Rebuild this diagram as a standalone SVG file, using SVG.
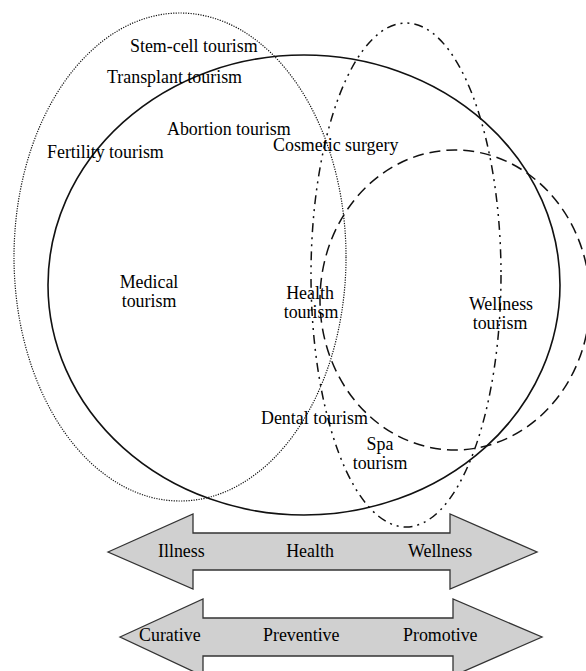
<svg xmlns="http://www.w3.org/2000/svg" width="586" height="671" viewBox="0 0 586 671">
<style>
text{font-family:"Liberation Serif","Times New Roman",serif;font-size:17.9px;fill:#000}
.c{text-anchor:middle}
.e{fill:none;stroke:#111}
.arr{fill:#d0d0d0;stroke:#333;stroke-width:1.3}
</style>
<rect width="586" height="671" fill="#fff"/>
<g id="connectors">
<ellipse id="medical-boundary" class="e" cx="180" cy="257" rx="166" ry="244" stroke-width="1.2" stroke-dasharray="1.2 1.3"/>
<ellipse id="health-boundary" class="e" cx="304" cy="285" rx="256" ry="230" stroke-width="1.6"/>
<ellipse id="spa-boundary" class="e" cx="406" cy="275" rx="95" ry="252" stroke-width="1.5" stroke-dasharray="9 5 2 5 2 5"/>
<ellipse id="wellness-boundary" class="e" cx="455" cy="300" rx="135" ry="150" stroke-width="1.5" stroke-dasharray="11 6"/>
</g>
<g id="labels">
<text x="130" y="52">Stem-cell tourism</text>
<text x="107" y="83">Transplant tourism</text>
<text x="167" y="135">Abortion tourism</text>
<text x="47" y="158">Fertility tourism</text>
<text x="273" y="151">Cosmetic surgery</text>
<g id="medical"><text class="c" x="149" y="288">Medical</text><text class="c" x="149" y="307">tourism</text></g>
<g id="health"><text class="c" x="310" y="299">Health</text><text class="c" x="311" y="318">tourism</text></g>
<g id="wellness"><text class="c" x="501" y="310">Wellness</text><text class="c" x="500" y="329">tourism</text></g>
<text x="261" y="424">Dental tourism</text>
<g id="spa"><text class="c" x="380" y="450">Spa</text><text class="c" x="380" y="469">tourism</text></g>
</g>
<g id="arrow1">
<polygon class="arr" points="108,552 193,514 193,533 450,533 450,514 537,552 450,589 450,570 193,570 193,589"/>
<text x="158" y="557">Illness</text>
<text class="c" x="310" y="557">Health</text>
<text x="408" y="557">Wellness</text>
</g>
<g id="arrow2">
<polygon class="arr" points="120,637 203,599 203,618 453,618 453,599 542,637 453,676 453,656 203,656 203,676"/>
<text x="139" y="641">Curative</text>
<text x="263" y="641">Preventive</text>
<text x="403" y="641">Promotive</text>
</g>
</svg>
